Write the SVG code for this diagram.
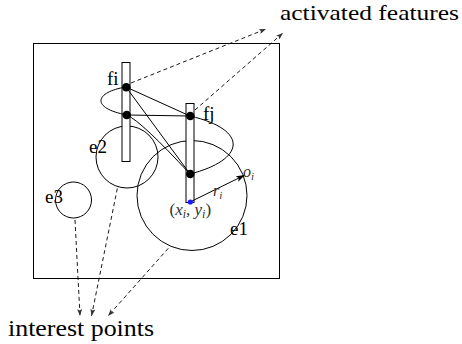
<svg xmlns="http://www.w3.org/2000/svg" width="462" height="344" viewBox="0 0 462 344">
<style>
.ln{fill:none;stroke:#000;stroke-width:1}
.ds{fill:none;stroke:#000;stroke-width:0.9;stroke-dasharray:4,3}
.lbl{fill:#000}
.math{font-style:italic;fill:#333}
.dot{fill:#000}
</style>
<defs>
<marker id="ah" markerUnits="userSpaceOnUse" markerWidth="8" markerHeight="6" refX="7" refY="2.5" orient="auto">
<path d="M0,0 L7,2.5 L0,5 L1.5,2.5 z" fill="#333"/>
</marker>
<marker id="ahs" markerUnits="userSpaceOnUse" markerWidth="10" markerHeight="7" refX="9" refY="3" orient="auto">
<path d="M0,0 L9,3 L0,6 L2,3 z" fill="#000"/>
</marker>
</defs>
<rect id="frame" x="33.5" y="43.5" width="246" height="235" class="ln"/>
<g font-family="Liberation Serif, serif">
<g id="e1"><circle cx="192" cy="195.5" r="55" class="ln"/><text class="lbl" x="230" y="235" font-size="19">e1</text></g>
<g id="e2"><circle cx="127" cy="157" r="31" class="ln"/><text class="lbl" x="89" y="153" font-size="19">e2</text></g>
<g id="e3"><circle cx="73.5" cy="200" r="18" class="ln"/><text class="lbl" x="45" y="203" font-size="19">e3</text></g>
<g id="fi"><rect x="122" y="62.5" width="8" height="99" fill="#fff" stroke="#000" stroke-width="1"/><text class="lbl" x="107" y="85" font-size="19">fi</text></g>
<g id="fj"><rect x="186" y="103.5" width="8" height="99" fill="#fff" stroke="#000" stroke-width="1"/><text class="lbl" x="203" y="120" font-size="19">fj</text></g>
<g id="connectors">
<path class="ln" d="M126,87 C95,92 90,108 127,115"/>
<path class="ln" d="M190,116 C250,130 245,160 190,174"/>
<line class="ln" x1="126" y1="87" x2="190" y2="116"/>
<line class="ln" x1="126" y1="87" x2="190" y2="174"/>
<line class="ln" x1="127" y1="115" x2="190" y2="116"/>
<path class="ln" d="M127,115 Q142,122 190,174"/>
<line class="ln" x1="192" y1="201" x2="245" y2="175" marker-end="url(#ahs)"/>
<line class="ds" x1="131" y1="83" x2="266" y2="29" marker-end="url(#ah)"/>
<line class="ds" x1="195" y1="110" x2="283" y2="33" marker-end="url(#ah)"/>
<line class="ds" x1="75" y1="220" x2="80" y2="316" marker-end="url(#ah)"/>
<line class="ds" x1="117.3" y1="188.5" x2="91.5" y2="316" marker-end="url(#ah)"/>
<line class="ds" x1="168.3" y1="248.3" x2="108" y2="316" marker-end="url(#ah)"/>
</g>
<g id="points">
<circle class="dot" cx="126.3" cy="87.3" r="4.3"/>
<circle class="dot" cx="126.7" cy="115" r="4.3"/>
<circle class="dot" cx="190.3" cy="116" r="4.3"/>
<circle class="dot" cx="190.3" cy="174" r="4.3"/>
<circle cx="190.3" cy="202" r="2.6" fill="#1a1aff"/>
</g>
<g id="labels">
<text class="math" x="169.5" y="215" font-size="17"><tspan font-style="normal">(</tspan>x<tspan font-size="12" dy="3">i</tspan><tspan dy="-3">, y</tspan><tspan font-size="12" dy="3">i</tspan><tspan dy="-3" font-style="normal">)</tspan></text>
<text class="math" x="243" y="177" font-size="16">o<tspan font-size="11" dy="3">i</tspan></text>
<text class="math" x="213" y="196" font-size="16">r<tspan font-size="11" dy="3">i</tspan></text>
<text class="lbl" x="280" y="19.5" font-size="22" textLength="179" lengthAdjust="spacingAndGlyphs">activated features</text>
<text class="lbl" x="8" y="336" font-size="24" textLength="146" lengthAdjust="spacingAndGlyphs">interest points</text>
</g>
</g>
</svg>
